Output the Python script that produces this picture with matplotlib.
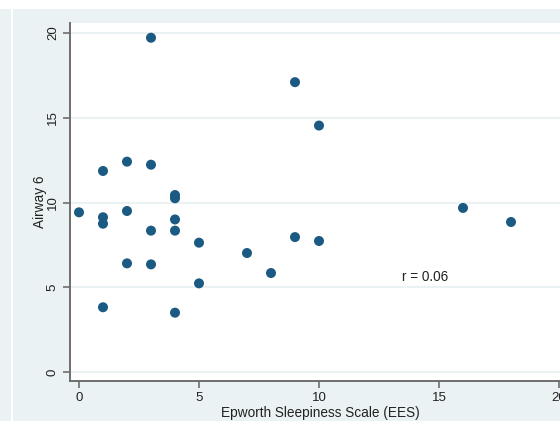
import matplotlib.pyplot as plt
from matplotlib.patches import Rectangle

plt.rcParams['font.family'] = ['Liberation Sans', 'DejaVu Sans']

ees = [0, 1, 1, 1, 1, 2, 2, 2, 3, 3, 3, 3, 4, 4, 4, 4, 4, 5, 5, 7, 8, 9, 9, 10, 10, 16, 18]
airway6 = [9.42, 11.86, 9.13, 8.75, 3.82, 12.41, 9.5, 6.41, 19.72, 12.23, 8.34, 6.35,
           10.44, 10.25, 9.0, 8.34, 3.5, 7.63, 5.23, 7.02, 5.84, 17.1, 7.96, 14.54, 7.73,
           9.68, 8.85]
xticks = [0, 5, 10, 15, 20]
yticks = [0, 5, 10, 15, 20]

bg = '#eaf2f3'
dot = '#1b5a82'
axcol = '#6e6e6e'

f = plt.figure(figsize=(5.6, 4.23), dpi=100, facecolor=bg)
# screenshot edges
f.patches.append(Rectangle((0, 1 - 9 / 423), 1, 9 / 423, transform=f.transFigure,
                           facecolor='white', edgecolor='none', zorder=0))
f.patches.append(Rectangle((11 / 560, 0), 2 / 560, 1, transform=f.transFigure,
                           facecolor='white', edgecolor='none', zorder=0))
f.patches.append(Rectangle((0, 0), 1, 2 / 423, transform=f.transFigure,
                           facecolor='white', edgecolor='none', zorder=0))

ax = f.add_axes([70 / 560, 42 / 423, 501 / 560, 358 / 423])
ax.set_facecolor('white')
ax.scatter(ees, airway6, s=52, color=dot, edgecolors='none', zorder=3)
ax.set_xlim(-0.375, 20.5)
ax.set_ylim(-0.53, 20.59)
ax.set_xticks(xticks)
ax.set_yticks(yticks)
ax.grid(axis='y', color=bg, linewidth=1.5)
ax.set_axisbelow(True)
for s in ['top', 'right']:
    ax.spines[s].set_visible(False)
for s in ['left', 'bottom']:
    ax.spines[s].set_color(axcol)
    ax.spines[s].set_linewidth(1.4)
ax.tick_params(colors=axcol, labelcolor='#222222', length=5, width=1.2, labelsize=9.5, pad=3)
plt.setp(ax.get_yticklabels(), rotation=90, va='center')
ax.set_xlabel('Epworth Sleepiness Scale (EES)', fontsize=9.8, color='#222222', labelpad=1)
ax.set_ylabel('Airway 6', fontsize=9.8, color='#222222', labelpad=0)
ax.text(13.45, 5.6, 'r = 0.06', fontsize=9.8, color='#222222', va='center', ha='left')

plt.savefig('out.png', dpi=100, facecolor=bg)
